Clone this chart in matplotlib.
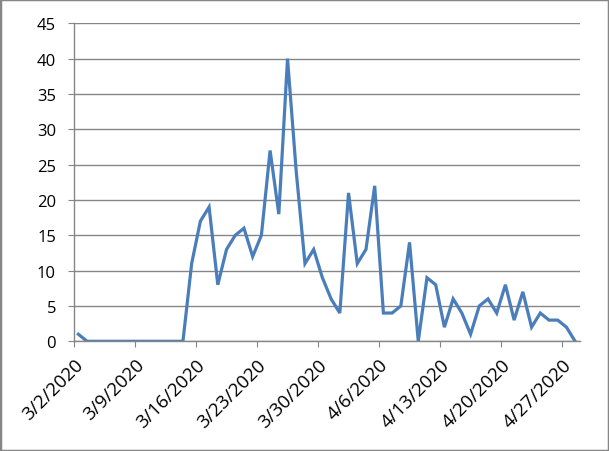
import matplotlib
matplotlib.use("Agg")
import matplotlib.pyplot as plt
import matplotlib.dates as mdates
import matplotlib.transforms as mtransforms
import pandas as pd

# daily counts, 3/2/2020 .. 4/28/2020
start_date = "2020-03-02"
counts = [1, 0, 0, 0, 0, 0, 0, 0, 0, 0, 0, 0, 0,
          11, 17, 19, 8, 13, 15, 16, 12, 15, 27, 18, 40, 24,
          11, 13, 9, 6, 4, 21, 11, 13, 22, 4, 4, 5, 14, 0,
          9, 8, 2, 6, 4, 1, 5, 6, 4, 8, 3, 7, 2, 4, 3, 3, 2, 0]
tick_dates = ["3/2/2020", "3/9/2020", "3/16/2020", "3/23/2020", "3/30/2020",
              "4/6/2020", "4/13/2020", "4/20/2020", "4/27/2020"]

days = pd.date_range(start_date, periods=len(counts), freq="D")
# Excel date axis puts each point in the middle of its day
x = mdates.date2num(days) + 0.5

plt.rcParams["font.family"] = ["Open Sans", "DejaVu Sans"]
grey = "#868686"

fig = plt.figure(figsize=(6.09, 4.52), dpi=100)
ax = fig.add_axes([74 / 609, 1 - 342.3 / 452, (579.5 - 74) / 609, (342.3 - 24.3) / 452])

ax.plot(x, counts, color="#4A7EBB", linewidth=2.3, solid_joinstyle="miter")

tick_pos = mdates.date2num(pd.to_datetime(tick_dates, format="%m/%d/%Y"))
ax.set_xticks(tick_pos)
ax.set_xticklabels(tick_dates, rotation=45, ha="right", va="top",
                   rotation_mode="anchor", fontsize=13.5)
shift = mtransforms.ScaledTranslation(6 / 100, 0, fig.dpi_scale_trans)
for lbl in ax.get_xticklabels():
    lbl.set_transform(lbl.get_transform() + shift)
ax.set_xlim(mdates.date2num(days[0]), mdates.date2num(days[-1]) + 1)
ax.set_ylim(0, 45)
ax.set_yticks(range(0, 46, 5))
ax.tick_params(axis="y", labelsize=12, length=4, color=grey, pad=9)
ax.tick_params(axis="x", length=4, color=grey, pad=6)
ax.grid(axis="y", color=grey, linewidth=1)
ax.set_axisbelow(True)
for side in ["top", "right"]:
    ax.spines[side].set_visible(False)
for side in ["left", "bottom"]:
    ax.spines[side].set_color(grey)
    ax.spines[side].set_linewidth(1)

# chart area border
fig.patches.append(plt.Rectangle((0, 0), 1, 1, transform=fig.transFigure,
                                 fill=False, edgecolor=grey, linewidth=2.5))

fig.savefig("out.png", dpi=100)
